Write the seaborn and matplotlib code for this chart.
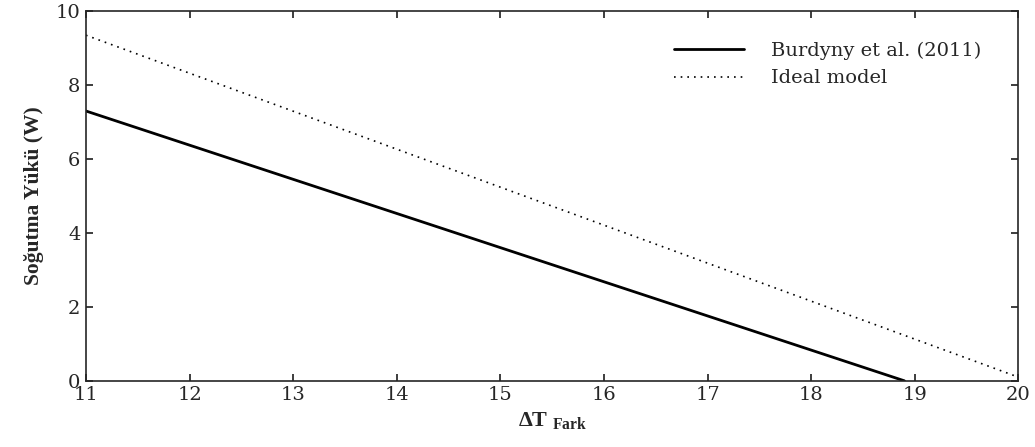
import matplotlib
matplotlib.use("Agg")
import matplotlib.pyplot as plt
import seaborn as sns
import pandas as pd

burdyny_x = [11, 18.9]
burdyny_y = [7.3, 0.0]
ideal_x = [11, 20]
ideal_y = [9.35, 0.1]
series_names = ["Burdyny et al. (2011)", "Ideal model"]

sns.set_theme(style="ticks")
plt.rcParams['font.family'] = ['Liberation Serif', 'DejaVu Serif']
plt.rcParams['mathtext.fontset'] = 'custom'
plt.rcParams['mathtext.rm'] = 'Liberation Serif'
plt.rcParams['mathtext.bf'] = 'Liberation Serif:bold'

df = pd.concat([
    pd.DataFrame({"x": burdyny_x, "y": burdyny_y, "s": series_names[0]}),
    pd.DataFrame({"x": ideal_x, "y": ideal_y, "s": series_names[1]}),
])

fig = plt.figure(figsize=(10.35, 4.47), dpi=100)
ax = fig.add_axes([0.083, 0.148, 0.901, 0.827])
sns.lineplot(data=df, x="x", y="y", hue="s", style="s",
             palette=["black", "black"], dashes=[(None, None), (1, 3)],
             ax=ax, sort=False, estimator=None)
for ln, lw in zip(ax.get_lines(), [2.0, 1.2]):
    ln.set_linewidth(lw)

ax.set_xlim(11, 20)
ax.set_ylim(0, 10)
ax.set_xticks(range(11, 21))
ax.set_yticks(range(0, 11, 2))
ax.tick_params(direction='in', top=True, right=True, length=5)
ax.tick_params(axis='x', pad=4)
ax.tick_params(axis='y', pad=4)
for lab in ax.get_xticklabels() + ax.get_yticklabels():
    lab.set_fontfamily('DejaVu Serif')
    lab.set_fontsize(14)
for s in ax.spines.values():
    s.set_linewidth(1.2)
ax.set_ylabel("Soğutma Yükü (W)", fontsize=15.5, fontweight='bold', labelpad=8)
ax.set_xlabel(r"$\mathbf{\Delta T}_{\ \mathbf{Fark}}$", fontsize=16, labelpad=4)

leg = ax.legend(frameon=False, loc='upper right', handlelength=3.6,
                handletextpad=1.4, labelspacing=0.5,
                prop={'family': 'DejaVu Serif', 'size': 14},
                bbox_to_anchor=(0.975, 0.955), borderaxespad=0.3)
for h, lw in zip(leg.get_lines(), [2.0, 1.2]):
    h.set_linewidth(lw)
    h.set_color("black")

fig.savefig("out.png", dpi=100)
